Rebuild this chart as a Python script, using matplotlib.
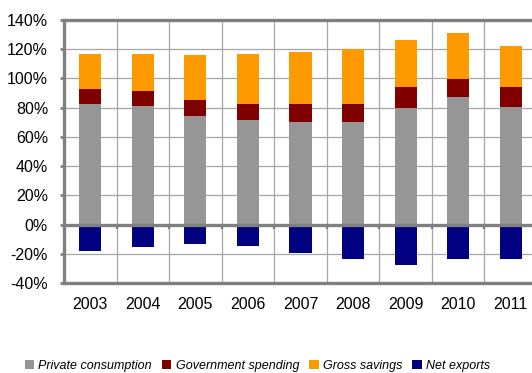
import matplotlib.pyplot as plt
import numpy as np
from matplotlib.patches import Patch

plt.rcParams['font.family'] = ['Liberation Sans', 'DejaVu Sans']

years = ['2003', '2004', '2005', '2006', '2007', '2008', '2009', '2010', '2011']
private_consumption = [82.3, 81.4, 74.5, 71.4, 70.4, 70.4, 80.0, 87.3, 80.5]
government_spending = [10.3, 10.0, 11.0, 10.9, 11.9, 11.9, 14.2, 12.1, 13.7]
gross_savings = [24.2, 25.4, 30.6, 34.5, 35.6, 37.7, 32.2, 31.5, 27.8]
net_exports = [-18.1, -15.5, -13.3, -14.4, -19.2, -23.3, -27.7, -23.3, -23.5]

labels = ['Private consumption', 'Government spending', 'Gross savings', 'Net exports']
colors = ['#969696', '#800000', '#FF9900', '#000080']

fig = plt.figure(figsize=(5.32, 3.73), dpi=100)
# axes runs a little past the right edge of the figure
ax = fig.add_axes([64 / 532, 1 - 283 / 373, 473 / 532, 263 / 373])

x = np.arange(len(years))
w = 0.42
pc = np.array(private_consumption)
gs = np.array(government_spending)
sv = np.array(gross_savings)

ax.bar(x, pc, w, color=colors[0], zorder=3)
ax.bar(x, gs, w, bottom=pc, color=colors[1], zorder=3)
ax.bar(x, sv, w, bottom=pc + gs, color=colors[2], zorder=3)
ax.bar(x, net_exports, w, color=colors[3], zorder=3)

ax.set_xlim(-0.5, len(years) - 0.5)
ax.set_ylim(-40, 140)
ax.set_yticks(np.arange(-40, 141, 20))
ax.set_yticklabels([f'{v}%' for v in range(-40, 141, 20)], fontsize=11.5)
ax.set_xticks(x)
ax.set_xticklabels(years, fontsize=11.5)

# grid: horizontal at each tick, vertical between categories
grid_c = '#a6a6a6'
for yv in range(-20, 140, 20):
    ax.axhline(yv, color=grid_c, lw=0.9, zorder=1)
for b in np.arange(0.5, len(years) - 0.5, 1):
    ax.axvline(b, color=grid_c, lw=0.9, zorder=1)
    ax.plot([b, b], [0, -2.2], color='#808080', lw=1.6, zorder=4)

ax.axhline(0, color='#808080', lw=2.4, zorder=4)

for side in ['left', 'top', 'bottom']:
    ax.spines[side].set_color('#808080')
    ax.spines[side].set_linewidth(2.4)
ax.spines['right'].set_visible(False)

ax.tick_params(axis='y', length=3, width=2, color='#808080', pad=8.5)
ax.tick_params(axis='x', length=0, pad=10)

handles = [Patch(facecolor=c) for c in colors]
leg = fig.legend(handles, labels, loc='center', bbox_to_anchor=(0.484, 0.02),
                 ncol=4, frameon=False, handlelength=0.75, handleheight=0.75,
                 handletextpad=0.35, columnspacing=0.8,
                 prop={'size': 9, 'style': 'italic'})

fig.savefig('out.png', dpi=100)
